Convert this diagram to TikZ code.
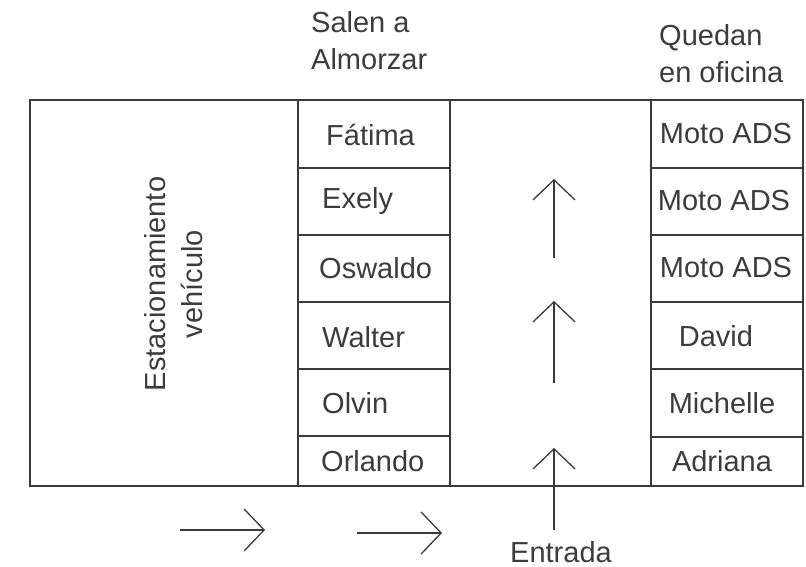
\documentclass[tikz,border=0pt]{standalone}
\usepackage{fontspec}
\setmainfont{Liberation Sans}
\usetikzlibrary{arrows.meta}
\definecolor{linec}{HTML}{3A3A3A}
\definecolor{textc}{HTML}{3C3C3C}
\tikzset{
  frame/.style={draw=linec, line width=1.3pt, inner sep=0pt, outer sep=0pt, anchor=north west},
  lbl/.style={text=textc, font=\fontsize{29}{37}\selectfont, inner sep=0pt},
  flow/.style={draw=linec, line width=1.3pt, -{Straight Barb[length=20pt,width=42pt,line width=1.3pt]}}
}
\begin{document}
\begin{tikzpicture}[x=1pt,y=-1pt]
\useasboundingbox (0,0) rectangle (806,567);
% outer frame and columns
\node[frame, minimum width=268pt, minimum height=386pt] (park) at (30,100) {};
\node[frame, minimum width=152pt, minimum height=386pt] (salen) at (298,100) {};
\node[frame, minimum width=201pt, minimum height=386pt] (pasillo) at (450,100) {};
\node[frame, minimum width=152pt, minimum height=386pt] (quedan) at (651,100) {};
% rows of Salen column
\node[frame, minimum width=152pt, minimum height=68pt] (s1) at (298,100) {};
\node[frame, minimum width=152pt, minimum height=67pt] (s2) at (298,168) {};
\node[frame, minimum width=152pt, minimum height=67pt] (s3) at (298,235) {};
\node[frame, minimum width=152pt, minimum height=67pt] (s4) at (298,302) {};
\node[frame, minimum width=152pt, minimum height=67pt] (s5) at (298,369) {};
\node[frame, minimum width=152pt, minimum height=50pt] (s6) at (298,436) {};
% rows of Quedan column
\node[frame, minimum width=152pt, minimum height=68pt] (q1) at (651,100) {};
\node[frame, minimum width=152pt, minimum height=67pt] (q2) at (651,168) {};
\node[frame, minimum width=152pt, minimum height=67pt] (q3) at (651,235) {};
\node[frame, minimum width=152pt, minimum height=67pt] (q4) at (651,302) {};
\node[frame, minimum width=152pt, minimum height=68pt] (q5) at (651,369) {};
\node[frame, minimum width=152pt, minimum height=49pt] (q6) at (651,437) {};
% headers
\node[lbl, anchor=west, align=left] (h1) at (311,41) {Salen a\\Almorzar};
\node[lbl, anchor=west, align=left] (h2) at (659,54) {Quedan\\en oficina};
% Salen names
\node[lbl, anchor=west] (n1) at (326,135) {Fátima};
\node[lbl, anchor=west] (n2) at (322,201) {Exely};
\node[lbl, anchor=west] (n3) at (319,268) {Oswaldo};
\node[lbl, anchor=west] (n4) at (322,337) {Walter};
\node[lbl, anchor=west] (n5) at (322,403) {Olvin};
\node[lbl, anchor=west] (n6) at (321,461) {Orlando};
% Quedan names
\node[lbl] (m1) at (726,134) {Moto ADS};
\node[lbl] (m2) at (724,201) {Moto ADS};
\node[lbl] (m3) at (726,268) {Moto ADS};
\node[lbl] (m4) at (716,336) {David};
\node[lbl] (m5) at (722,403) {Michelle};
\node[lbl] (m6) at (722,461) {Adriana};
% parking label
\node[lbl, rotate=90, align=center] (park-lbl) at (174,284) {Estacionamiento\\vehículo};
% entrance
\node[lbl] (entrada) at (561,552) {Entrada};
% arrows
\coordinate (a1s) at (554,258); \coordinate (a1e) at (554,179);
\coordinate (a2s) at (554,383); \coordinate (a2e) at (554,301);
\coordinate (a3s) at (554,530); \coordinate (a3e) at (554,448);
\coordinate (b1s) at (180,530); \coordinate (b1e) at (265,530);
\coordinate (b2s) at (357,533); \coordinate (b2e) at (442,533);
\draw[flow] (a1s) -- (a1e);
\draw[flow] (a2s) -- (a2e);
\draw[flow] (a3s) -- (a3e);
\draw[flow] (b1s) -- (b1e);
\draw[flow] (b2s) -- (b2e);
\end{tikzpicture}
\end{document}
